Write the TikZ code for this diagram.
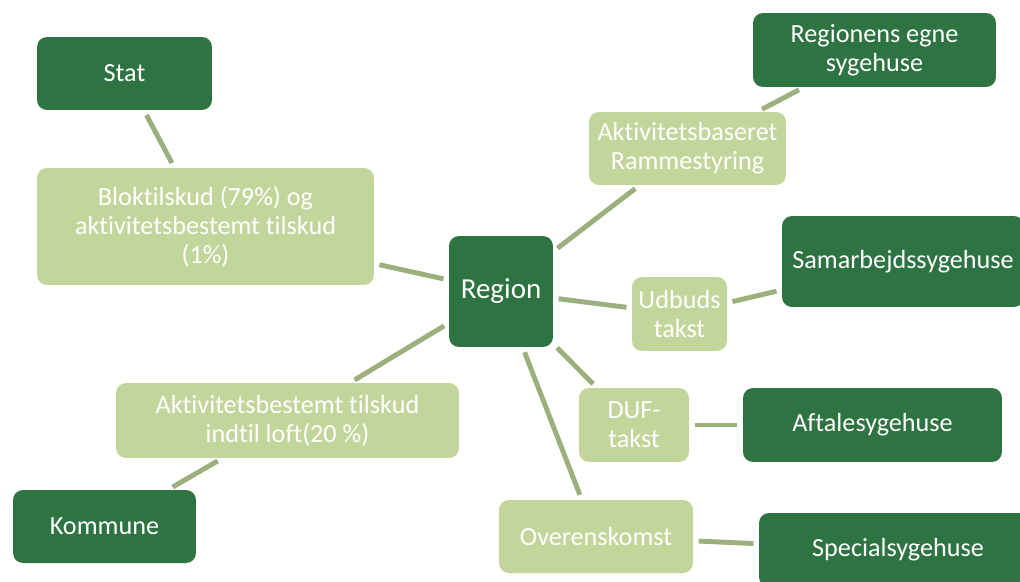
\documentclass[tikz,border=0pt]{standalone}
\usepackage{fontspec}
\setmainfont{Carlito}[Ligatures=NoCommon]
\usetikzlibrary{positioning}
\definecolor{darkgreen}{RGB}{46,116,66}
\definecolor{lightgreen}{RGB}{194,214,155}
\definecolor{linkgreen}{RGB}{155,176,125}

\begin{document}
\begin{tikzpicture}
		[x=0.02cm, y=-0.02cm,
		box/.style={rectangle, rounded corners=0.2cm, text=white, align=center, inner sep=0pt,
			font=\fontsize{14.9}{16.6}\selectfont},
		dark/.style={box, fill=darkgreen},
		light/.style={box, fill=lightgreen},
		link/.style={draw=linkgreen, line width=2.8pt, shorten >=3pt, shorten <=3pt}]
		\useasboundingbox (0,0) rectangle (1020,581);

		% centre node
		\node[dark, minimum width=2.08cm, minimum height=2.22cm,
			font=\fontsize{16.5}{18}\selectfont] (region) at (501,291.5) {Region};

		% left side: stat and kommune
		\node[dark, minimum width=3.5cm, minimum height=1.46cm] (stat) at (124.5,73.5) {Stat};
		\node[light, minimum width=6.74cm, minimum height=2.34cm] (blok) at (205.5,226.5)
			{Bloktilskud (79\%) og\\aktivitetsbestemt tilskud\\(1\%)};
		\node[light, minimum width=6.86cm, minimum height=1.5cm] (aktbest) at (287.5,420.5)
			{Aktivitetsbestemt tilskud\\indtil loft(20 \%)};
		\node[dark, minimum width=3.66cm, minimum height=1.46cm] (kommune) at (104.5,526.5) {Kommune};

		% right side: payment forms
		\node[light, minimum width=3.94cm, minimum height=1.46cm] (aktbas) at (687.5,148.5)
			{Aktivitetsbaseret\\Rammestyring};
		\node[light, minimum width=1.9cm, minimum height=1.48cm] (udbud) at (679.5,314) {Udbuds\\takst};
		\node[light, minimum width=2.2cm, minimum height=1.48cm] (duf) at (634,425) {DUF-\\takst};
		\node[light, minimum width=3.88cm, minimum height=1.46cm] (overens) at (596,536.5) {Overenskomst};

		% right side: hospitals
		\node[dark, minimum width=4.86cm, minimum height=1.48cm] (egne) at (874.5,50)
			{Regionens egne\\sygehuse};
		\node[dark, minimum width=4.84cm, minimum height=1.82cm] (samarb) at (903,261.5) {Samarbejdssygehuse};
		\node[dark, minimum width=5.18cm, minimum height=1.48cm] (aftale) at (872.5,425) {Aftalesygehuse};
		\node[dark, minimum width=5.56cm, minimum height=1.48cm] (special) at (898,550) {Specialsygehuse};

		% draw the links
		\draw[link] (stat) -- (blok);
		\draw[link] (blok) -- (region);
		\draw[link] (region) -- (aktbest);
		\draw[link] (aktbest) -- (kommune);
		\draw[link] (region) -- (aktbas);
		\draw[link] (aktbas) -- (egne);
		\draw[link] (region) -- (udbud);
		\draw[link] (udbud) -- (samarb);
		\draw[link] (region) -- (duf);
		\draw[link] (duf) -- (aftale);
		\draw[link] (region) -- (overens);
		\draw[link] (overens) -- (special);
	\end{tikzpicture}
\end{document}
